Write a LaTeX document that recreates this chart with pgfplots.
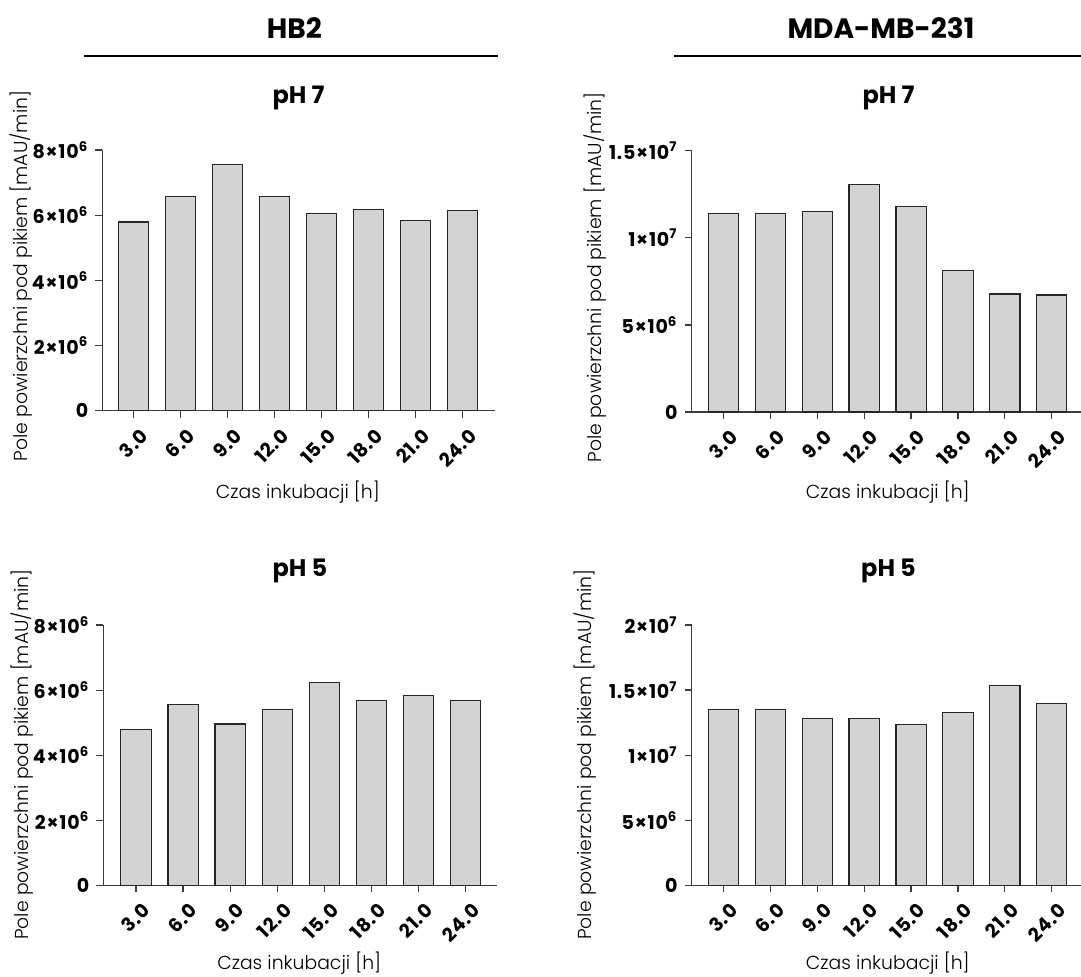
\documentclass[border=0pt]{standalone}
\usepackage{pgfplots}
\pgfplotsset{compat=1.18}
\usepackage{fontspec}
\setmainfont{Poppins}
\newfontfamily\lightfont{Poppins Light}
\newfontfamily\tickfont[LetterSpace=4]{Poppins Bold}

\definecolor{barfill}{RGB}{211,211,211}
\definecolor{axisgray}{RGB}{60,60,60}

% one layout unit = 0.5pt
\pgfplotsset{
  panel/.style={
    scale only axis,
    anchor=south west,
    axis x line*=bottom,
    axis y line*=left,
    axis line style={axisgray, line width=0.6pt},
    every tick/.style={axisgray, line width=0.6pt},
    tick align=outside,
    major tick length=3.5pt,
    ymin=0,
    xtick={0,...,7},
    xticklabels={3.0,6.0,9.0,12.0,15.0,18.0,21.0,24.0},
    xticklabel style={font=\tickfont\fontsize{9.5}{10}\selectfont, rotate=45, anchor=east, xshift=2pt, yshift=-9pt},
    yticklabel style={font=\tickfont\fontsize{9.5}{10}\selectfont},
    scaled y ticks=false,
    ybar, bar width=15.15pt,
    xlabel={Czas inkubacji [h]},
    ylabel={Pole powierzchni pod pikiem [mAU/min]},
    label style={font=\lightfont\fontsize{9.4}{10}\selectfont},
    title style={font=\bfseries\fontsize{12}{14}\selectfont, anchor=center},
    clip=false,
  },
  bars/.style={fill=barfill, draw=black!85, line width=0.6pt},
}

\begin{document}
\begin{tikzpicture}
\useasboundingbox (0,0) rectangle (1081*0.5pt,-976*0.5pt);

% column headers
\node[font=\bfseries\fontsize{14}{16}\selectfont] at (294.4*0.5pt,-28.3*0.5pt) {HB2};
\draw[line width=1.1pt] (84.4*0.5pt,-56*0.5pt) -- (498.3*0.5pt,-56*0.5pt);
\node[font=\bfseries\fontsize{14}{16}\selectfont] at (880.9*0.5pt,-28.3*0.5pt) {MDA-MB-231};
\draw[line width=1.1pt] (674.3*0.5pt,-56*0.5pt) -- (1090*0.5pt,-56*0.5pt);

% HB2, pH 7
\begin{axis}[panel,
  at={(102.3*0.5pt,-410.7*0.5pt)}, width=392.5*0.5pt, height=260.7*0.5pt,
  xmin=-0.666, xmax=7.687, ymax=8e6,
  ytick={0,2e6,4e6,6e6,8e6},
  yticklabels={0,2×10\textsuperscript{6},4×10\textsuperscript{6},6×10\textsuperscript{6},8×10\textsuperscript{6}},
  title={pH 7}, title style={at={(axis description cs:0.5,1.153)}},
  xlabel style={at={(axis description cs:0.498,-0.311)}, anchor=center},
  ylabel style={at={(axis description cs:-0.208,0.517)}, anchor=center},
]
\addplot[bars] coordinates {(0,5.79e6) (1,6.57e6) (2,7.55e6) (3,6.57e6) (4,6.06e6) (5,6.18e6) (6,5.83e6) (7,6.15e6)};
\end{axis}

% MDA-MB-231, pH 7
\begin{axis}[panel,
  at={(691.5*0.5pt,-412*0.5pt)}, width=394*0.5pt, height=261.3*0.5pt,
  xmin=-0.682, xmax=7.72, ymax=1.5e7,
  ytick={0,5e6,1e7,1.5e7},
  yticklabels={0,5×10\textsuperscript{6},1×10\textsuperscript{7},1.5×10\textsuperscript{7}},
  title={pH 7}, title style={at={(axis description cs:0.5,1.156)}},
  xlabel style={at={(axis description cs:0.498,-0.307)}, anchor=center},
  ylabel style={at={(axis description cs:-0.245,0.515)}, anchor=center},
]
\addplot[bars] coordinates {(0,11.38e6) (1,11.38e6) (2,11.52e6) (3,13.07e6) (4,11.81e6) (5,8.11e6) (6,6.77e6) (7,6.72e6)};
\end{axis}

% HB2, pH 5
\begin{axis}[panel,
  at={(103.3*0.5pt,-885.3*0.5pt)}, width=393.3*0.5pt, height=260.3*0.5pt,
  xmin=-0.694, xmax=7.658, ymax=8e6,
  ytick={0,2e6,4e6,6e6,8e6},
  yticklabels={0,2×10\textsuperscript{6},4×10\textsuperscript{6},6×10\textsuperscript{6},8×10\textsuperscript{6}},
  title={pH 5}, title style={at={(axis description cs:0.5,1.160)}},
  xlabel style={at={(axis description cs:0.498,-0.300)}, anchor=center},
  ylabel style={at={(axis description cs:-0.206,0.502)}, anchor=center},
]
\addplot[bars] coordinates {(0,4.79e6) (1,5.56e6) (2,4.96e6) (3,5.40e6) (4,6.24e6) (5,5.69e6) (6,5.84e6) (7,5.67e6)};
\end{axis}

% MDA-MB-231, pH 5
\begin{axis}[panel,
  at={(691.5*0.5pt,-885.3*0.5pt)}, width=394*0.5pt, height=260.3*0.5pt,
  xmin=-0.682, xmax=7.72, ymax=2e7,
  ytick={0,5e6,1e7,1.5e7,2e7},
  yticklabels={0,5×10\textsuperscript{6},1×10\textsuperscript{7},1.5×10\textsuperscript{7},2×10\textsuperscript{7}},
  title={pH 5}, title style={at={(axis description cs:0.5,1.160)}},
  xlabel style={at={(axis description cs:0.498,-0.300)}, anchor=center},
  ylabel style={at={(axis description cs:-0.271,0.502)}, anchor=center},
]
\addplot[bars] coordinates {(0,13.49e6) (1,13.49e6) (2,12.80e6) (3,12.80e6) (4,12.37e6) (5,13.29e6) (6,15.36e6) (7,13.98e6)};
\end{axis}
\end{tikzpicture}
\end{document}
